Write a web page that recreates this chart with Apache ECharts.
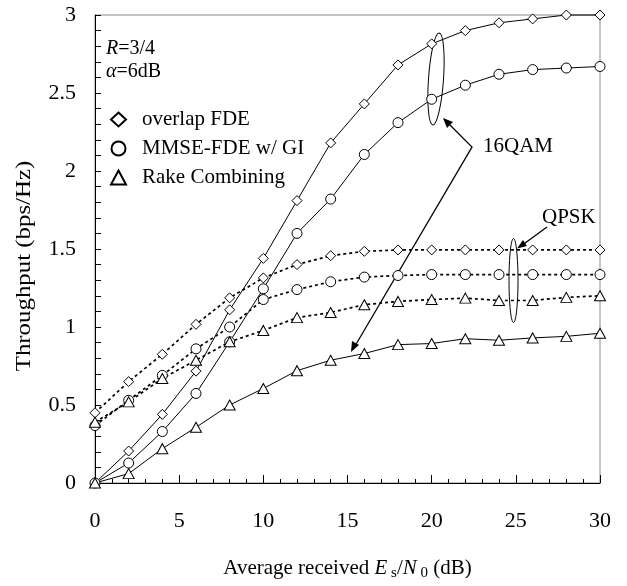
<!DOCTYPE html>
<html>
<head>
<meta charset="utf-8">
<script src="https://cdn.jsdelivr.net/npm/echarts@6/dist/echarts.min.js"></script>
<style>html,body{margin:0;padding:0;background:#fff}#c{width:627px;height:586px}</style>
</head>
<body>
<div id="c"></div>
<script>
// ---- data ----
var esn0 = [0, 2, 4, 6, 8, 10, 12, 14, 16, 18, 20, 22, 24, 26, 28, 30];
var qam16Overlap = [0, 0.205, 0.44, 0.717, 1.11, 1.44, 1.81, 2.18, 2.43, 2.68, 2.815, 2.90, 2.95, 2.975, 3.0, 3.0];
var qam16Mmse    = [0, 0.128, 0.33, 0.574, 0.905, 1.245, 1.60, 1.82, 2.106, 2.31, 2.46, 2.55, 2.62, 2.65, 2.66, 2.67];
var qam16Rake    = [0, 0.06, 0.22, 0.357, 0.50, 0.606, 0.72, 0.787, 0.83, 0.887, 0.894, 0.925, 0.915, 0.93, 0.94, 0.96];
var qpskOverlap  = [0.45, 0.65, 0.825, 1.017, 1.187, 1.315, 1.40, 1.457, 1.485, 1.494, 1.494, 1.494, 1.494, 1.494, 1.494, 1.494];
var qpskMmse     = [0.368, 0.53, 0.69, 0.86, 1.0, 1.176, 1.24, 1.29, 1.32, 1.33, 1.336, 1.336, 1.336, 1.336, 1.336, 1.336];
var qpskRake     = [0.39, 0.52, 0.67, 0.787, 0.905, 0.978, 1.06, 1.093, 1.143, 1.164, 1.176, 1.185, 1.17, 1.17, 1.19, 1.20];
var schemeNames  = ['overlap FDE', 'MMSE-FDE w/ GI', 'Rake Combining'];
var yTicks = [0, 0.5, 1, 1.5, 2, 2.5, 3];
var xTicks = [0, 5, 10, 15, 20, 25, 30];

var FONT = "'Liberation Serif','Times New Roman',serif";

function pairs(ys) { return esn0.map(function (x, i) { return [x, ys[i]]; }); }

function mkSeries(name, ys, symbol, size, dotted) {
  return {
    name: name, type: 'line', data: pairs(ys), symbol: symbol, symbolSize: size,
    clip: false, showAllSymbol: true,
    lineStyle: { color: '#000', width: dotted ? 1.7 : 1, type: dotted ? [3, 3] : 'solid' },
    itemStyle: { color: '#fff', borderColor: '#000', borderWidth: 1 },
    emphasis: { disabled: true }, animation: false
  };
}

var chart = echarts.init(document.getElementById('c'));
chart.setOption({
  backgroundColor: '#fff',
  animation: false,
  grid: { left: 95, right: 27, top: 15, bottom: 101, show: true, borderColor: '#8a8a8a', borderWidth: 1 },
  xAxis: {
    type: 'value', min: 0, max: 30, interval: 5,
    axisLine: { lineStyle: { color: '#000', width: 1 } },
    axisTick: { inside: true, length: 8, lineStyle: { color: '#000' } },
    minorTick: { show: true, splitNumber: 5, length: 4, lineStyle: { color: '#000' } },
    splitLine: { show: false },
    axisLabel: { margin: 27, color: '#000', fontFamily: FONT, fontSize: 22,
      formatter: function (v) { return xTicks.indexOf(v) >= 0 ? String(v) : ''; } },
    name: '{t|Average received }{i|E}{s| s}{t|/}{i|N}{s| 0}{t| (dB)}',
    nameLocation: 'middle', nameGap: 72,
    nameTextStyle: {
      color: '#000', fontFamily: FONT, fontSize: 21,
      rich: {
        t: { fontFamily: FONT, fontSize: 21, color: '#000', lineHeight: 26 },
        i: { fontFamily: FONT, fontSize: 21, fontStyle: 'italic', color: '#000', lineHeight: 26 },
        s: { fontFamily: FONT, fontSize: 15, color: '#000', lineHeight: 16, verticalAlign: 'bottom' }
      }
    }
  },
  yAxis: {
    type: 'value', min: 0, max: 3, interval: 0.5,
    axisLine: { show: true, lineStyle: { color: '#000', width: 1 } },
    axisTick: { show: true, inside: true, length: 6, lineStyle: { color: '#000' } },
    minorTick: { show: true, splitNumber: 5, length: 6, lineStyle: { color: '#000' } },
    splitLine: { show: false },
    axisLabel: { margin: 19, color: '#000', fontFamily: FONT, fontSize: 22,
      formatter: function (v) { return yTicks.indexOf(v) >= 0 ? String(v) : ''; } }
  },
  legend: {
    orient: 'vertical', left: 105, top: 104, itemGap: 8, itemWidth: 15, itemHeight: 14,
    selectedMode: false,
    textStyle: { color: '#000', fontFamily: FONT, fontSize: 21, padding: [0, 0, 0, 11] },
    data: [
      { name: schemeNames[0], icon: 'diamond' },
      { name: schemeNames[1], icon: 'circle' },
      { name: schemeNames[2], icon: 'triangle' }
    ]
  },
  graphic: [
    { type: 'text', x: 24, y: 266, rotation: Math.PI / 2, scaleX: 1.13,
      style: { text: 'Throughput (bps/Hz)', font: '22px ' + FONT, fill: '#000', align: 'center', verticalAlign: 'middle' } },
    { type: 'text', x: 106, y: 49,
      style: { text: '{i|R}{t|=3/4}', verticalAlign: 'middle',
        rich: { i: { font: 'italic 20px ' + FONT, fill: '#000' }, t: { font: '20px ' + FONT, fill: '#000' } } } },
    { type: 'text', x: 106, y: 72,
      style: { text: '{i|α}{t|=6dB}', verticalAlign: 'middle',
        rich: { i: { font: 'italic 20px ' + FONT, fill: '#000' }, t: { font: '20px ' + FONT, fill: '#000' } } } },
    { type: 'text', x: 483, y: 146,
      style: { text: '16QAM', font: '21px ' + FONT, fill: '#000', verticalAlign: 'middle' } },
    { type: 'text', x: 542, y: 217,
      style: { text: 'QPSK', font: '21px ' + FONT, fill: '#000', verticalAlign: 'middle' } },
    { type: 'ellipse', shape: { cx: 436, cy: 79, rx: 7.5, ry: 46 }, originX: 436, originY: 79, rotation: -0.07,
      style: { fill: 'none', stroke: '#000', lineWidth: 1 } },
    { type: 'ellipse', shape: { cx: 513.5, cy: 280.5, rx: 4.5, ry: 42 },
      style: { fill: 'none', stroke: '#000', lineWidth: 1 } },
    { type: 'polyline', shape: { points: [[447, 122], [472, 147], [355, 346]] },
      style: { fill: 'none', stroke: '#000', lineWidth: 1.3 } },
    { type: 'polygon', shape: { points: [[443, 118], [453, 122], [447, 128]] }, style: { fill: '#000' } },
    { type: 'polygon', shape: { points: [[351, 352], [352, 341], [359, 345]] }, style: { fill: '#000' } },
    { type: 'line', shape: { x1: 547, y1: 227, x2: 521, y2: 246 }, style: { stroke: '#000', lineWidth: 1.3 } },
    { type: 'polygon', shape: { points: [[517, 248.5], [523, 240], [527, 246]] }, style: { fill: '#000' } }
  ],
  series: [
    mkSeries(schemeNames[0], qam16Overlap, 'diamond', [10, 10], false),
    mkSeries(schemeNames[1], qam16Mmse, 'circle', 10, false),
    mkSeries(schemeNames[2], qam16Rake, 'triangle', [11, 10], false),
    mkSeries(schemeNames[0], qpskOverlap, 'diamond', [10, 10], true),
    mkSeries(schemeNames[1], qpskMmse, 'circle', 10, true),
    mkSeries(schemeNames[2], qpskRake, 'triangle', [11, 10], true)
  ]
});
</script>
</body>
</html>
